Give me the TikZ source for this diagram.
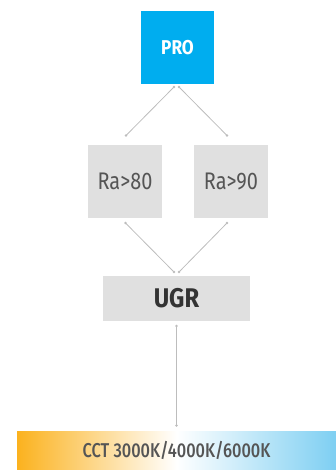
\documentclass[tikz,border=0pt]{standalone}
\usepackage{fontspec}
\setmainfont{Fira Sans}
\newfontfamily\raFont[FakeStretch=0.83]{Fira Sans}
\newfontfamily\proFont[FakeStretch=0.86]{Fira Sans Bold}
\newfontfamily\ugrFont[FakeStretch=0.88]{Fira Sans Bold}
\newfontfamily\cctFont[FakeStretch=0.82]{Fira Sans Medium}
\usetikzlibrary{calc}
\definecolor{problue}{HTML}{00ADEF}
\definecolor{boxgray}{HTML}{E0E0E0}
\definecolor{txtgray}{HTML}{555555}
\definecolor{txtdark}{HTML}{333333}
\definecolor{linegray}{HTML}{BDBDBD}
\definecolor{warm}{HTML}{FBB21E}
\definecolor{cool}{HTML}{7ECFF2}
\tikzset{
  box/.style={draw=none, inner sep=0pt, anchor=center},
  conn/.style={draw=linegray, line width=0.8pt},
  dotend/.style={fill=linegray, draw=none}
}
\begin{document}
\begin{tikzpicture}[x=1pt,y=-1pt]
\useasboundingbox (0,0) rectangle (336,470);
% boxes
\node[box, fill=problue, minimum width=73pt, minimum height=73pt, text=white,
      font=\proFont\fontsize{20}{22}\selectfont] (pro) at (177.5,47.5) {PRO};
\node[box, fill=boxgray, minimum width=74pt, minimum height=73pt, text=txtgray,
      font=\raFont\fontsize{24}{26}\selectfont] (ra80) at (125,181.5) {Ra>80};
\node[box, fill=boxgray, minimum width=74pt, minimum height=73pt, text=txtgray,
      font=\raFont\fontsize{24}{26}\selectfont] (ra90) at (231,181.5) {Ra>90};
\node[box, fill=boxgray, minimum width=147pt, minimum height=45pt, text=txtdark,
      font=\ugrFont\fontsize{27}{29}\selectfont] (ugr) at (176.5,298.5) {UGR};
\node[box, minimum width=319pt, minimum height=39pt, left color=warm, right color=cool,
      middle color=white, text=txtgray,
      font=\cctFont\fontsize{20}{22}\selectfont] (cct) at (176.5,450.5) {CCT 3000K/4000K/6000K};
% connector end points
\coordinate (pa) at (174,87);
\coordinate (pb) at (179,87);
\coordinate (ra) at (126,135.5);
\coordinate (rb) at (227,135.5);
\coordinate (rc) at (125.5,223);
\coordinate (rd) at (227,223);
\coordinate (ua) at (174,272);
\coordinate (ub) at (179,272);
\coordinate (uc) at (176.5,326);
\coordinate (cc) at (176.5,425.5);
\draw[conn] (pa) -- (ra);
\draw[conn] (pb) -- (rb);
\draw[conn] (rc) -- (ua);
\draw[conn] (rd) -- (ub);
\draw[conn] (uc) -- (cc);
\foreach \p in {pa,pb,ra,rb,rc,rd,ua,ub,uc,cc}
  \fill[dotend] (\p) circle (1.4pt);
\end{tikzpicture}
\end{document}
